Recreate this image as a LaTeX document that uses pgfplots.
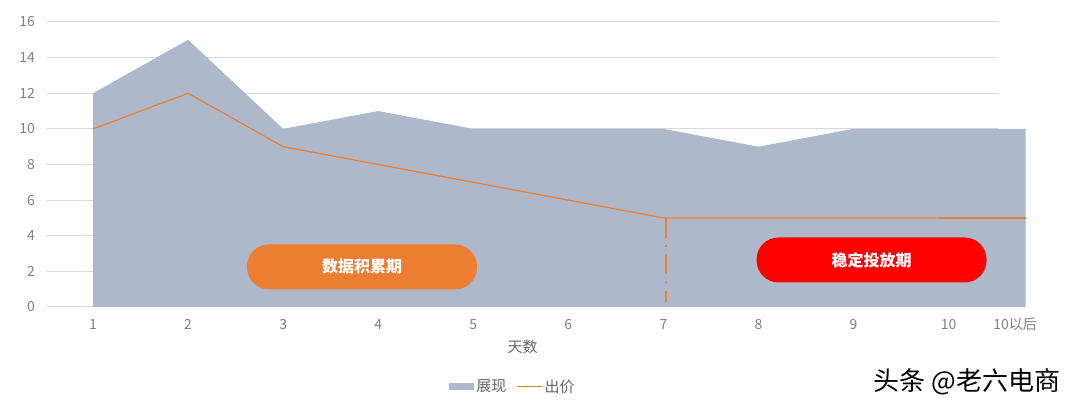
\documentclass[border=0pt]{standalone}
\usepackage{fontspec}
\setmainfont{Noto Sans CJK SC}
\usepackage{pgfplots}
\pgfplotsset{compat=1.18}
\definecolor{areac}{HTML}{ADB9CA}
\definecolor{orangec}{HTML}{ED7D31}
\definecolor{gridc}{HTML}{D9D9D9}
\definecolor{tickc}{HTML}{808080}
\definecolor{labc}{HTML}{666666}
\begin{document}
\begin{tikzpicture}[x=1pt,y=1pt]
\path (0,0) rectangle (1080,409);
\begin{axis}[at={(47pt,102pt)}, anchor=south west, scale only axis,
  width=951pt, height=285pt,
  xmin=0.516, xmax=10.52, ymin=0, ymax=16,
  clip=false,
  ytick={0,2,...,16}, xtick={1,...,10},
  axis line style={draw=none},
  major tick length=0pt,
  ymajorgrids, grid style={gridc, line width=1pt},
  /pgf/number format/assume math mode=true,
  tick label style={font=\fontsize{14}{16}\selectfont, text=tickc, inner sep=0pt},
  yticklabel style={xshift=-12pt},
  xticklabel style={yshift=-12pt},
  xlabel={天数},
  x label style={at={(axis description cs:0.5,0)}, anchor=north, yshift=-33pt, inner sep=0pt, font=\fontsize{15}{17}\selectfont, text=labc},
  legend style={at={(axis description cs:0.49,-0.28)}, anchor=center, draw=none, fill=none,
    legend columns=2, font=\fontsize{15}{17}\selectfont, text=labc,
    /tikz/every even column/.append style={column sep=8pt}},
]
\addplot[fill=areac, draw=none,
  legend image code/.code={\fill[areac] (0pt,-3.5pt) rectangle (25pt,3.5pt);}]
  coordinates {(1,12) (2,15) (3,10) (4,11) (5,10) (6,10) (7,10) (8,9) (9,10) (10,10) (10.81,10)} \closedcycle;
\addlegendentry{展现}
\addplot[orangec, line width=1.2pt,
  legend image code/.code={\draw[orangec, line width=1.2pt] (0pt,0pt) -- (25pt,0pt);}]
  coordinates {(1,10) (2,12) (3,9) (4,8) (5,7) (6,6) (7,5) (8,5) (9,5) (10,5) (10.81,5)};
\addlegendentry{出价}
\addplot[orangec, line width=2.5pt, forget plot] coordinates {(9.9,5) (10.81,5)};
\addplot[orangec, line width=2pt, dash pattern=on 20pt off 7.5pt on 1.5pt off 7.5pt, forget plot]
  coordinates {(7.03,5) (7.03,0.28)};
\node[fill=orangec, rounded corners=22pt, minimum width=230pt, minimum height=45pt,
  text=white, font=\bfseries\fontsize{16}{18}\selectfont] at (axis cs:3.83,2.25) {数据积累期};
\node[fill=red, rounded corners=22pt, minimum width=230pt, minimum height=45pt,
  text=white, font=\bfseries\fontsize{16}{18}\selectfont] at (axis cs:9.19,2.64) {稳定投放期};
\node[anchor=north, inner sep=0pt, yshift=-11pt, font=\fontsize{14}{16}\selectfont, text=tickc]
  at (axis cs:10.7,0) {10以后};
\end{axis}
\node[font=\fontsize{26}{28}\selectfont] at (967,27) {头条 @老六电商};
\end{tikzpicture}
\end{document}
